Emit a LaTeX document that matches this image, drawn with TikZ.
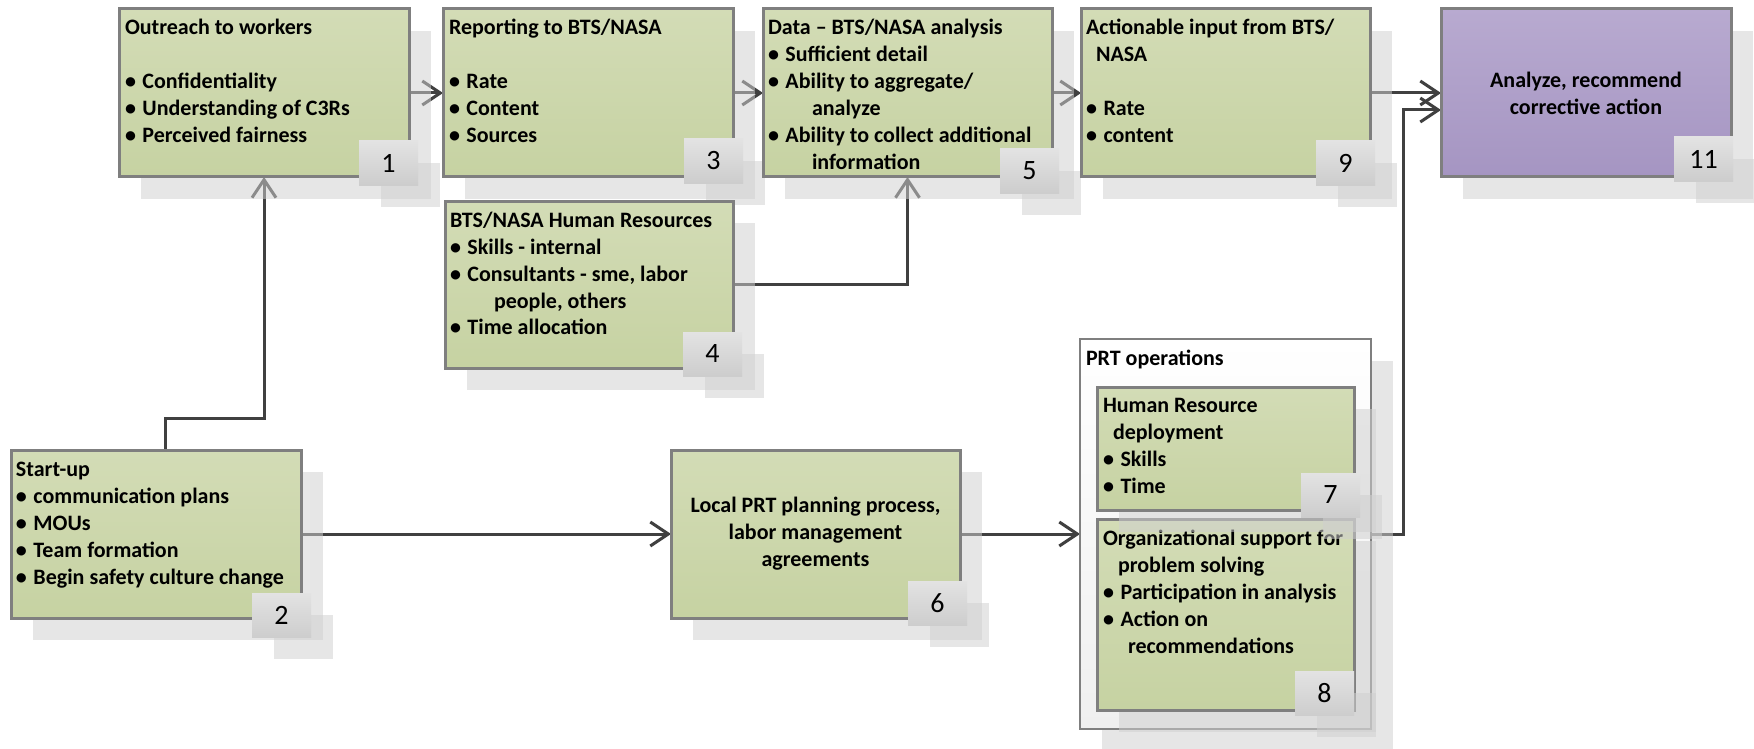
\documentclass[tikz,border=0pt]{standalone}
\usepackage{fontspec}
\setmainfont{Carlito}
\usetikzlibrary{arrows.meta,calc}
\definecolor{gtop}{HTML}{D3DCB6}
\definecolor{gbot}{HTML}{C6D2A2}
\definecolor{ptop}{HTML}{B8AAD0}
\definecolor{pbot}{HTML}{A595C2}
\definecolor{btop}{HTML}{E3E3E3}
\definecolor{bbot}{HTML}{CDCDCD}
\definecolor{wbot}{HTML}{EFEFEF}
\definecolor{bordc}{HTML}{7F7F7F}
\definecolor{connc}{HTML}{404040}
\definecolor{shadc}{HTML}{CFCFCF}
\pgfdeclarelayer{connlayer}
\pgfsetlayers{connlayer,main}
\newcommand\mkbox[6]{%
  \fill[shad] (#2+22,#3+22) rectangle ++(#4,#5);
  \node[#6, anchor=north west, minimum width=#4pt, minimum height=#5pt] (#1) at (#2,#3) {};}
\newcommand\mkbadge[4]{%
  \fill[shad] (#2+22,#3+22) rectangle ++(59,44);
  \node[badge] (#1) at (#2,#3) {#4};}
\newcommand\Ln[1]{\hbox{#1}}
\newcommand\Bu[1]{\hbox{\makebox[17.5pt][l]{\textbullet}#1}}
\newcommand\Ind[2]{\hbox{\hspace*{#1pt}#2}}
\tikzset{
  shad/.style={fill=shadc, fill opacity=0.53},
  gbox/.style={draw=bordc, line width=3pt, top color=gtop, bottom color=gbot, inner sep=0pt, outer sep=0pt},
  pbox/.style={draw=bordc, line width=3pt, top color=ptop, bottom color=pbot, inner sep=0pt, outer sep=0pt},
  wbox/.style={draw=bordc, line width=2.5pt, top color=white, bottom color=wbot, inner sep=0pt, outer sep=0pt},
  badge/.style={top color=btop, bottom color=bbot, inner sep=0pt, outer sep=0pt, minimum width=59pt, minimum height=44pt, anchor=north west, font=\fontsize{28}{30}\selectfont},
  txt/.style={inner sep=0pt, outer sep=0pt, anchor=base west, font=\fontsize{22}{27}\selectfont\bfseries},
  ctxt/.style={inner sep=0pt, align=center, font=\fontsize{22}{27}\selectfont\bfseries},
  link/.style={draw=connc, line width=3pt, -{Straight Barb[length=18pt,width=24pt]}},
}
\begin{document}
\begin{tikzpicture}[x=1pt,y=-1pt]
\useasboundingbox (0,0) rectangle (1754,749);
% top row
\mkbox{b1}{119}{9}{290}{168}{gbox}
\mkbadge{n1}{359}{141}{1}
\node[txt] (t1) at (125,35) {\vtop{\Ln{Outreach to workers}\Ln{}\Bu{Confidentiality}\Bu{Understanding of C3Rs}\Bu{Perceived fairness}}};
\mkbox{b3}{443}{9}{290}{168}{gbox}
\mkbadge{n3}{684}{139}{3}
\node[txt] (t3) at (449,35) {\vtop{\Ln{Reporting to BTS/NASA}\Ln{}\Bu{Rate}\Bu{Content}\Bu{Sources}}};
\mkbox{b5}{763}{9}{289}{168}{gbox}
\node[txt] (t5) at (768,35) {\vtop{\Ln{Data – BTS/NASA analysis}\Bu{Sufficient detail}\Bu{Ability to aggregate/}\Ind{44}{analyze}\Bu{Ability to collect additional}\Ind{44}{information}}};
\mkbadge{n5}{1000}{149}{5}
\mkbox{b9}{1081}{9}{289}{168}{gbox}
\mkbadge{n9}{1316}{141}{9}
\node[txt] (t9) at (1086,35) {\vtop{\Ln{Actionable input from BTS/}\Ind{10}{NASA}\Ln{}\Bu{Rate}\Bu{content}}};
\mkbox{b11}{1441}{9}{290}{168}{pbox}
\mkbadge{n11}{1674}{137}{11}
\node[ctxt] (t11) at (b11.center) {Analyze, recommend\\corrective action};
% box 4
\mkbox{b4}{445}{201}{288}{167}{gbox}
\mkbadge{n4}{683}{332}{4}
\node[txt] (t4) at (450,227) {\vtop{\Ln{BTS/NASA Human Resources}\Bu{Skills - internal}\Bu{Consultants - sme, labor}\Ind{44}{people, others}\Bu{Time allocation}}};
% bottom row
\mkbox{b2}{11}{450}{290}{168}{gbox}
\mkbadge{n2}{252}{593}{2}
\node[txt] (t2) at (16,476) {\vtop{\Ln{Start-up}\Bu{communication plans}\Bu{MOUs}\Bu{Team formation}\Bu{Begin safety culture change}}};
\mkbox{b6}{671}{450}{289}{168}{gbox}
\mkbadge{n6}{908}{581}{6}
\node[ctxt] (t6) at (b6.center) {Local PRT planning process,\\labor management\\agreements};
% PRT container
\mkbox{prt}{1080}{339}{291}{390}{wbox}
\node[txt] (tprt) at (1086,365) {PRT operations};
\mkbox{b8}{1097}{519}{257}{191}{gbox}
\mkbadge{n8}{1295}{671}{8}
\node[txt] (t8) at (1103,545) {\vtop{\Ln{Organizational support for}\Ind{15}{problem solving}\Bu{Participation in analysis}\Bu{Action on}\Ind{25}{recommendations}}};
\mkbox{b7}{1097}{387}{257}{123}{gbox}
\mkbadge{n7}{1301}{473}{7}
\node[txt] (t7) at (1103,412) {\vtop{\Ln{Human Resource}\Ind{10}{deployment}\Bu{Skills}\Bu{Time}}};
% connectors
\coordinate (k1) at (264,418);
\coordinate (k2) at (1403,110);
\begin{pgfonlayer}{connlayer}
\draw[link] ([xshift=9pt]b2.north) |- (k1) -- (k1 |- b1.south);
\draw[link] (b1.east) -- (b3.west);
\draw[link] (b3.east) -- (b5.west);
\draw[link] (b5.east) -- (b9.west);
\draw[link] (b9.east) -- (b11.west);
\draw[link] (b4.east) -| (b5.south);
\draw[link] (b2.east) -- (b6.west);
\draw[link] (b6.east) -- (prt.west);
\draw[link] (prt.east) -| (k2) -- (k2 -| b11.west);
\end{pgfonlayer}
\end{tikzpicture}
\end{document}
